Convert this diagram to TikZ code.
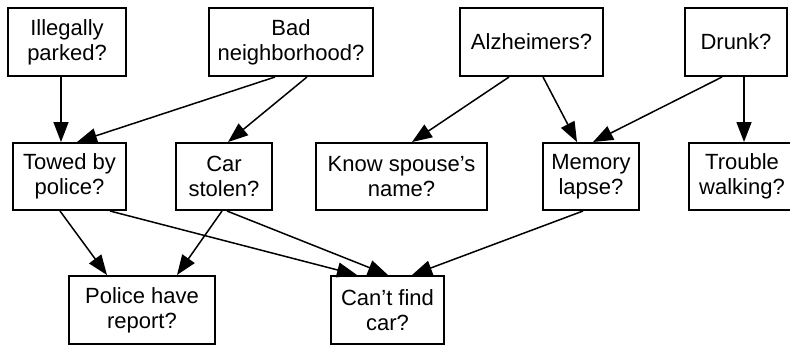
\documentclass[tikz,border=0pt]{standalone}
\usepackage{fontspec}
\setmainfont{Liberation Sans}
\usepackage{tikz}
\usetikzlibrary{arrows.meta,positioning,calc}

\begin{document}
\begin{tikzpicture}[
  x=0.5pt, y=-0.5pt,
  box/.style={draw, line width=1pt, align=center, minimum height=34pt,
              inner sep=1pt, font=\fontsize{11}{12.5}\selectfont},
  arrow/.style={-{Triangle[length=10pt,width=7.5pt]}, line width=0.75pt}
]
\useasboundingbox (0,0) rectangle (790,345);
% causes
\node[box, minimum width=59pt] (ill) at (67,42) {Illegally\\parked?};
\node[box, minimum width=82pt] (bad) at (291,42) {Bad\\neighborhood?};
\node[box, minimum width=71.5pt] (alz) at (531.5,42) {Alzheimers?};
\node[box, minimum width=51pt] (drunk) at (736,42) {Drunk?};
% middle row
\node[box, minimum width=56.5pt, minimum height=33.5pt] (towed) at (69.5,176.5) {Towed by\\police?};
\node[box, minimum width=48pt, minimum height=33.5pt] (stolen) at (224,176.5) {Car\\stolen?};
\node[box, minimum width=85.5pt, minimum height=33.5pt] (spouse) at (401.5,176.5) {Know spouse’s\\name?};
\node[box, minimum width=48pt, minimum height=33.5pt] (memory) at (591,176.5) {Memory\\lapse?};
\node[box, minimum width=53pt, minimum height=33.5pt] (trouble) at (742,176.5) {Trouble\\walking?};
% effects
\node[box, minimum width=73pt] (police) at (142,310) {Police have\\report?};
\node[box, minimum width=56.5pt] (cant) at (387.5,310) {Can’t find\\car?};

\draw[arrow] ([xshift=-3pt]ill.south) -- ([xshift=-4.25pt]towed.north);
\draw[arrow] ([xshift=-8pt]bad.south) -- ([xshift=3.75pt]towed.north);
\draw[arrow] ([xshift=8pt]bad.south) -- ([xshift=2pt]stolen.north);
\draw[arrow] ([xshift=-11.25pt]alz.south) -- ([xshift=5.25pt]spouse.north);
\draw[arrow] ([xshift=5.75pt]alz.south) -- ([xshift=-7pt]memory.north);
\draw[arrow] ([xshift=-7pt]drunk.south) -- ([xshift=1pt]memory.north);
\draw[arrow] ([xshift=4pt]drunk.south) -- ([xshift=1pt]trouble.north);
\draw[arrow] ([xshift=-4.75pt]towed.south) -- ([xshift=-17.5pt]police.north);
\draw[arrow] ([xshift=20.25pt]towed.south) -- ([xshift=-15.25pt]cant.north);
\draw[arrow] ([xshift=-1pt]stolen.south) -- ([xshift=17.5pt]police.north);
\draw[arrow] ([xshift=1.5pt]stolen.south) -- ([xshift=0.25pt]cant.north);
\draw[arrow] ([xshift=-4pt]memory.south) -- ([xshift=12.25pt]cant.north);
\end{tikzpicture}
\end{document}
